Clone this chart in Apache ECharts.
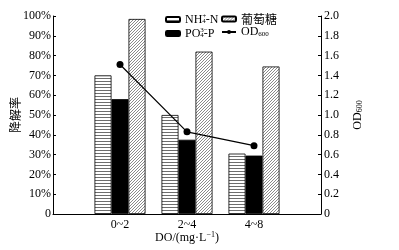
<!DOCTYPE html>
<html>
<head>
<meta charset="utf-8">
<script src="https://cdn.jsdelivr.net/npm/echarts@6/dist/echarts.min.js"></script>
<style>
  html, body { margin: 0; padding: 0; background: #fff; }
  #chart { width: 399px; height: 250px; }
</style>
</head>
<body>
<div id="chart"></div>
<script>
// categories (blank ends keep the groups on the gridlines like the original)
const categories = ['', '0~2', '2~4', '4~8', '']
const nh4 = ['-', 70, 50, 30.5, '-']
const po4 = ['-', 58, 37.5, 29.5, '-']
const glucose = ['-', 98.5, 82, 74.5, '-']
const od600 = ['-', 1.51, 0.83, 0.69, '-']

const SERIF = "'Liberation Serif', 'Times New Roman', serif"
const CJK = "'Noto Sans CJK SC', sans-serif"

function stripePattern() {
  const c = document.createElement('canvas')
  c.width = 4; c.height = 3
  const ctx = c.getContext('2d')
  ctx.fillStyle = '#fff'
  ctx.fillRect(0, 0, 4, 3)
  ctx.fillStyle = '#6d6d6d'
  ctx.fillRect(0, 0, 4, 1)
  return c
}

function hatchPattern() {
  const c = document.createElement('canvas')
  c.width = 3; c.height = 3
  const ctx = c.getContext('2d')
  ctx.fillStyle = '#fff'
  ctx.fillRect(0, 0, 3, 3)
  ctx.fillStyle = '#8a8a8a'
  ctx.fillRect(2, 0, 1, 1)
  ctx.fillRect(1, 1, 1, 1)
  ctx.fillRect(0, 2, 1, 1)
  return c
}

const RICH = {
  sup: { fontSize: 7, fontFamily: SERIF, padding: [0, 0, 6, 0], width: 0, lineHeight: 8 },
  sub: { fontSize: 7, fontFamily: SERIF, padding: [4, 0, 0, 0], lineHeight: 8 },
  cn: { fontSize: 12, fontFamily: CJK, lineHeight: 12 },
}

const LEGEND_TEXT = {
  'NH4-N': 'NH{sup|+}{sub|4}-N',
  'PO4-P': 'PO{sup|3−}{sub|4}-P',
  '葡萄糖': '{cn|葡萄糖}',
  'OD600': 'OD{sub|600}',
}

const chart = echarts.init(document.getElementById('chart'))

const barStyle = (fill) => ({ color: fill, borderColor: '#000', borderWidth: 0.8 })

const legendBase = {
  orient: 'vertical', top: 13, padding: 0,
  itemWidth: 14, itemHeight: 5, itemGap: 1,
  formatter: (n) => LEGEND_TEXT[n],
  textStyle: { fontFamily: SERIF, fontSize: 12, lineHeight: 12, color: '#000', rich: RICH },
}

chart.setOption({
  animation: false,
  textStyle: { fontFamily: SERIF, color: '#000' },
  grid: { left: 53, right: 78, top: 16, bottom: 36, containLabel: false, outerBoundsMode: 'none' },
  legend: [
    { ...legendBase, data: ['NH4-N', 'PO4-P'], left: 165 },
    { ...legendBase, data: ['葡萄糖', 'OD600'], left: 221 },
  ],
  xAxis: {
    type: 'category',
    data: categories,
    boundaryGap: false,
    name: 'DO/(mg·L{sup|−1})',
    nameLocation: 'middle',
    nameGap: 17,
    nameMoveOverlap: false,
    nameTextStyle: { fontSize: 12, color: '#000', rich: { sup: { fontSize: 8, padding: [0, 0, 6, 0] } } },
    axisLine: { lineStyle: { color: '#000', width: 1 } },
    axisTick: { show: false },
    axisLabel: { fontSize: 12, color: '#000', margin: 5 },
    splitLine: { show: false },
  },
  yAxis: [
    {
      type: 'value',
      min: 0, max: 100, interval: 10,
      name: '降解率',
      nameLocation: 'middle',
      nameGap: 32,
      nameMoveOverlap: false,
      nameTextStyle: { fontFamily: CJK, fontSize: 12, color: '#000' },
      axisLine: { show: true, lineStyle: { color: '#000', width: 1 } },
      axisTick: { show: true, inside: true, length: 3, lineStyle: { color: '#000' } },
      axisLabel: { fontSize: 12, color: '#000', margin: 2, formatter: (v) => v === 0 ? '0' : v + '%' },
      splitLine: { show: false },
    },
    {
      type: 'value',
      min: 0, max: 2, interval: 0.2,
      name: 'OD{sub|600}',
      nameLocation: 'middle',
      nameGap: 30,
      nameRotate: 90,
      nameMoveOverlap: false,
      nameTextStyle: { fontSize: 12, color: '#000', rich: { sub: { fontSize: 8, padding: [5, 0, 0, 0] } } },
      axisLine: { show: true, lineStyle: { color: '#000', width: 1 } },
      axisTick: { show: true, inside: true, length: 3, lineStyle: { color: '#000' } },
      axisLabel: { fontSize: 12, color: '#000', margin: 3, formatter: (v) => v === 0 ? '0' : v.toFixed(1) },
      splitLine: { show: false },
    },
  ],
  series: [
    {
      name: 'NH4-N', type: 'bar', data: nh4,
      barWidth: 17, barGap: '0%',
      itemStyle: barStyle({ image: stripePattern(), repeat: 'repeat' }),
    },
    {
      name: 'PO4-P', type: 'bar', data: po4,
      barWidth: 17, barGap: '0%',
      itemStyle: barStyle('#000'),
    },
    {
      name: '葡萄糖', type: 'bar', data: glucose,
      barWidth: 17, barGap: '0%',
      itemStyle: barStyle({ image: hatchPattern(), repeat: 'repeat' }),
    },
    {
      name: 'OD600', type: 'line', yAxisIndex: 1, data: od600,
      symbol: 'circle', symbolSize: 7,
      lineStyle: { color: '#000', width: 1.2 },
      itemStyle: { color: '#000' },
      z: 5,
    },
  ],
})
</script>
</body>
</html>
